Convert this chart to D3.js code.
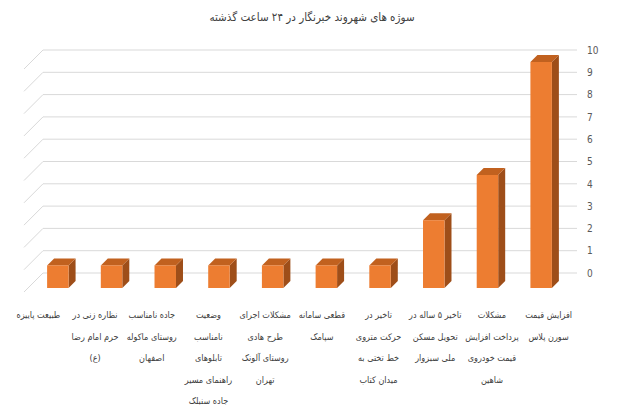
<!DOCTYPE html>
<html>
<head>
<meta charset="utf-8">
<script src="https://cdn.jsdelivr.net/npm/d3@7"></script>
<style>
  body { margin: 0; background: #fff; }
  svg { display: block; font-family: "DejaVu Sans Condensed", "DejaVu Sans", sans-serif; }
</style>
</head>
<body>
<svg id="chart" width="620" height="420"></svg>
<script>
// categories, left to right, each split into its label lines
const categories = [
  ["طبیعت پاییزه"],
  ["نظاره زنی در", "حرم امام رضا", "(ع)"],
  ["جاده نامناسب", "روستای ماکوله", "اصفهان"],
  ["وضعیت", "نامناسب", "تابلوهای", "راهنمای مسیر", "جاده سنبلک"],
  ["مشکلات اجرای", "طرح هادی", "روستای آلونک", "تهران"],
  ["قطعی سامانه", "سپامک"],
  ["تاخیر در", "حرکت متروی", "خط تختی به", "میدان کتاب"],
  ["تاخیر ۵ ساله در", "تحویل مسکن", "ملی سبزوار"],
  ["مشکلات", "پرداخت افزایش", "قیمت خودروی", "شاهین"],
  ["افزایش قیمت", "سورن پلاس"]
];
const values = [1, 1, 1, 1, 1, 1, 1, 3, 5, 10];
const ticks = [0, 1, 2, 3, 4, 5, 6, 7, 8, 9, 10];

const svg = d3.select("#chart");
const keys = categories.map((c, i) => i);

// back wall (gridlines + axis)
const yWall = d3.scaleLinear().domain([0, 10]).range([273, 50]);
// front face of the bars (sits lower in the 3D view)
const yFront = d3.scaleLinear().domain([0, 10]).range([288, 62]);

const xBar = d3.scaleBand().domain(keys).range([31, 568]).paddingInner(0.6).paddingOuter(0.3);
const xLabel = d3.scaleBand().domain(keys).range([10, 577]);

const wallLeft = 43, wallRight = 577;
const dx = 7, dy = -7;

// gridlines with the slanted side wall
const grid = svg.append("g");
grid.selectAll("line.h")
  .data(ticks)
  .enter().append("line")
  .attr("x1", wallLeft).attr("x2", wallRight)
  .attr("y1", d => yWall(d)).attr("y2", d => yWall(d))
  .attr("stroke", "#d9d9d9").attr("stroke-width", 1);
grid.selectAll("line.d")
  .data(ticks)
  .enter().append("line")
  .attr("x1", wallLeft).attr("x2", wallLeft - 19)
  .attr("y1", d => yWall(d)).attr("y2", d => yWall(d) + 19)
  .attr("stroke", "#d9d9d9").attr("stroke-width", 1);

// right axis labels
svg.append("g")
  .attr("transform", `translate(${wallRight},0)`)
  .call(d3.axisRight(yWall).tickValues(ticks).tickSize(0).tickPadding(10))
  .call(g => g.select(".domain").remove())
  .selectAll("text")
  .style("font-family", "'Liberation Sans Narrow', 'DejaVu Sans Condensed', sans-serif")
  .style("font-size", "10px")
  .style("fill", "#595959");

// 3D bars
const bars = svg.append("g").selectAll("g")
  .data(values)
  .enter().append("g");

const w = xBar.bandwidth();

bars.append("path") // side
  .attr("d", (d, i) => {
    const x = xBar(i) + w, t = yFront(d), b = yFront(0);
    return `M${x},${t}L${x + dx},${t + dy}L${x + dx},${b + dy}L${x},${b}Z`;
  })
  .attr("fill", "#9e4e19");

bars.append("path") // top
  .attr("d", (d, i) => {
    const x = xBar(i), t = yFront(d);
    return `M${x},${t}L${x + dx},${t + dy}L${x + w + dx},${t + dy}L${x + w},${t}Z`;
  })
  .attr("fill", "#c1611f");

bars.append("rect") // front
  .attr("x", (d, i) => xBar(i))
  .attr("y", d => yFront(d))
  .attr("width", w)
  .attr("height", d => yFront(0) - yFront(d))
  .attr("fill", "#ed7d31");

// category labels
const labels = svg.append("g").selectAll("text")
  .data(categories)
  .enter().append("text")
  .attr("text-anchor", "middle")
  .attr("direction", "rtl")
  .style("font-size", "9px")
  .style("fill", "#404040");

labels.selectAll("tspan")
  .data((d, i) => d.map(line => ({ line, i })))
  .enter().append("tspan")
  .attr("x", d => xLabel(d.i) + xLabel.bandwidth() / 2)
  .attr("y", (d, j) => 318 + j * 21.5)
  .text(d => d.line);

// title
svg.append("text")
  .attr("x", 312)
  .attr("y", 21)
  .attr("text-anchor", "middle")
  .attr("direction", "rtl")
  .style("font-size", "11.5px")
  .style("fill", "#404040")
  .text("سوژه های شهروند خبرنگار در ۲۴ ساعت گذشته");
</script>
</body>
</html>
